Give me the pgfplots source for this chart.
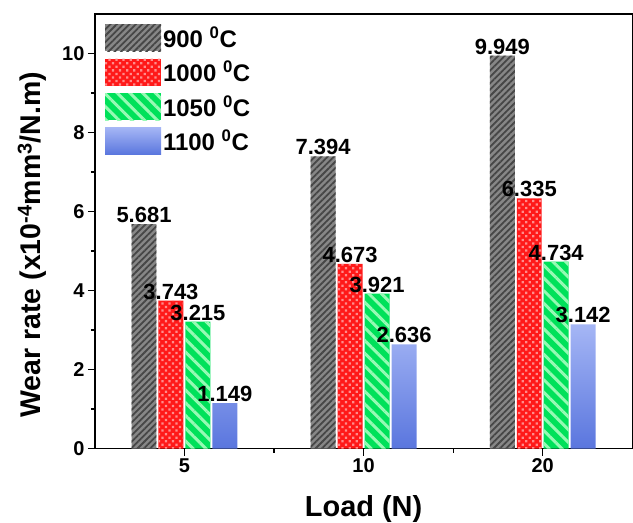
\documentclass[border=0pt]{standalone}
\usepackage{fontspec}
\setmainfont{Liberation Sans}
\usepackage{pgfplots}
\pgfplotsset{compat=1.18}
\usetikzlibrary{patterns,patterns.meta}
\definecolor{grayBase}{RGB}{135,135,135}
\definecolor{grayLine}{RGB}{70,70,70}
\definecolor{redBase}{RGB}{255,25,25}
\definecolor{redDot}{RGB}{255,140,140}
\definecolor{greenBase}{RGB}{0,225,90}
\definecolor{greenLine}{RGB}{150,250,180}
\definecolor{blueTop}{RGB}{165,182,245}
\definecolor{blueBot}{RGB}{90,118,222}
\begin{document}
\begin{tikzpicture}
\begin{axis}[
  scale only axis, width=538pt, height=435pt,
  xmin=-0.5, xmax=2.5, ymin=0, ymax=11,
  ybar=2pt, bar width=25pt,
  xtick={0,1,2}, xticklabels={5,10,20},
  minor xtick={0.5,1.5},
  ytick={0,2,4,6,8,10}, minor ytick={1,3,5,7,9},
  tick align=outside, tick pos=left,
  major tick length=7pt, minor tick length=4pt,
  axis line style={line width=1.4pt},
  every tick/.style={black, line width=1.2pt},
  ticklabel style={font=\fontsize{20}{22}\selectfont\bfseries},
  /pgf/number format/assume math mode=true,
  xlabel={Load (N)},
  ylabel={Wear rate (x10\textsuperscript{-4}mm\textsuperscript{3}/N.m)},
  xlabel style={font=\fontsize{29}{32}\selectfont\bfseries, at={(axis description cs:0.5,-0.140)}, anchor=center},
  ylabel style={font=\fontsize{28.5}{31}\selectfont\bfseries, at={(axis description cs:-0.117,0.469)}, anchor=center},
  nodes near coords={\pgfmathprintnumber[fixed,fixed zerofill,precision=3]{\pgfplotspointmeta}},
  every node near coord/.append style={font=\fontsize{22}{24}\selectfont\bfseries, anchor=south, inner sep=1pt, black},
  legend image code/.code={\draw[#1, draw=none] (0pt,-13.5pt) rectangle (56pt,13.5pt);},
  legend style={at={(axis description cs:0.0186,0.977)}, anchor=north west, draw=none, fill=none,
    font=\fontsize{24}{26}\selectfont\bfseries, row sep=7.5pt, inner sep=0pt},
  legend cell align=left,
]
\addplot[draw=none, fill=grayBase, postaction={pattern={Lines[angle=45,distance=4.5pt,line width=1.8pt]}, pattern color=grayLine}]
  coordinates {(0,5.681) (1,7.394) (2,9.949)};
\addplot[draw=none, fill=redBase, postaction={pattern={Dots[angle=45,distance=5pt,radius=1.6pt]}, pattern color=redDot}]
  coordinates {(0,3.743) (1,4.673) (2,6.335)};
\addplot[draw=none, fill=greenBase, postaction={pattern={Lines[angle=-45,distance=9pt,line width=3pt]}, pattern color=greenLine}]
  coordinates {(0,3.215) (1,3.921) (2,4.734)};
\addplot[draw=none, top color=blueTop, bottom color=blueBot]
  coordinates {(0,1.149) (1,2.636) (2,3.142)};
\legend{900 \textsuperscript{0}C, 1000 \textsuperscript{0}C, 1050 \textsuperscript{0}C, 1100 \textsuperscript{0}C}
\coordinate (SW) at (rel axis cs:0,0);
\coordinate (NE) at (rel axis cs:1,1);
\end{axis}
\pgfresetboundingbox
\path[use as bounding box] ([shift={(-95pt,-74pt)}]SW) rectangle ([shift={(0.7pt,14pt)}]NE);
\end{tikzpicture}
\end{document}
